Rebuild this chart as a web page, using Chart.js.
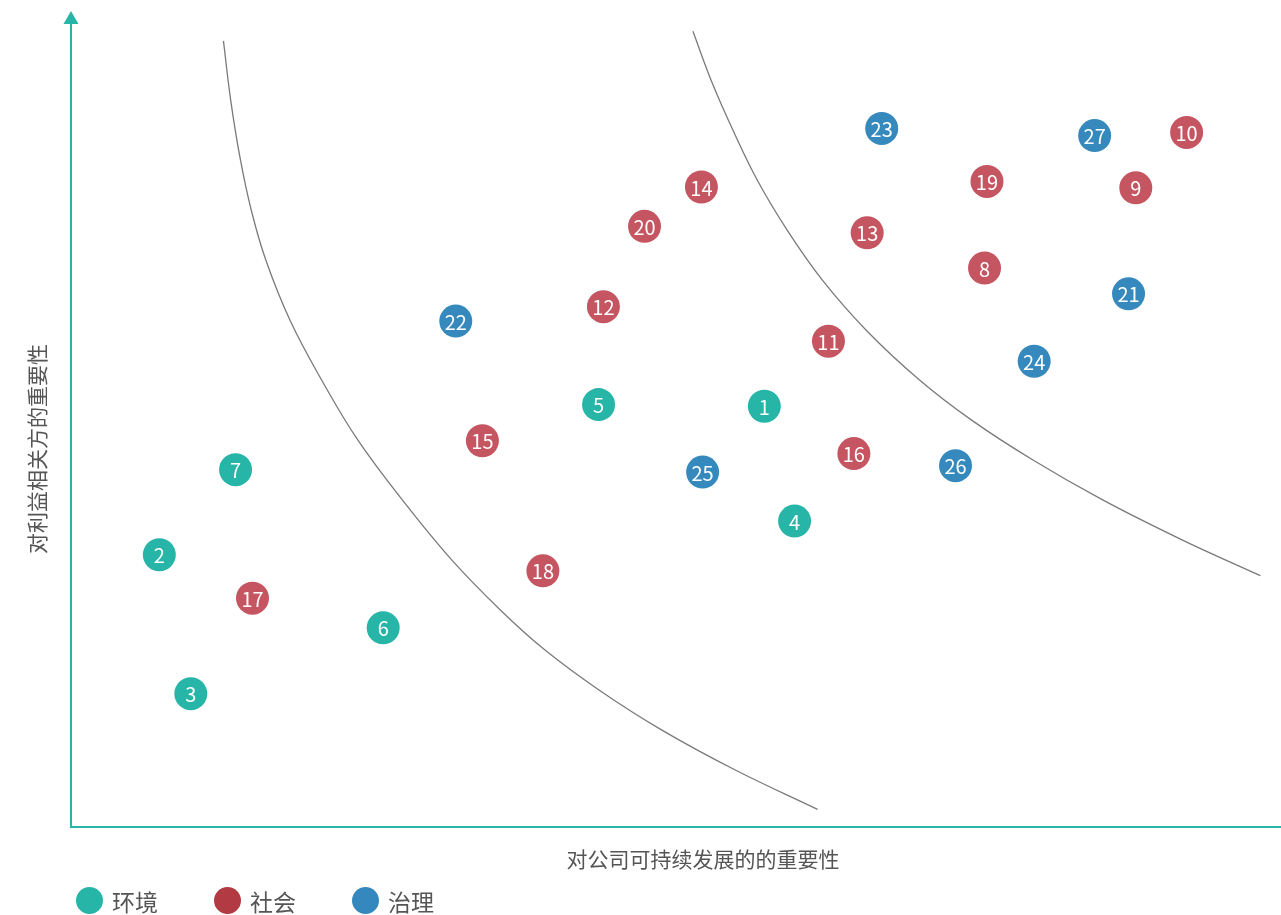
<!DOCTYPE html>
<html lang="zh-CN">
<head>
<meta charset="utf-8">
<title>实质性议题矩阵</title>
<script src="https://cdn.jsdelivr.net/npm/chart.js@4.4.1/dist/chart.umd.min.js"></script>
<style>
    html, body { margin: 0; padding: 0; background: #fff; overflow: hidden; }
    #wrap { position: relative; width: 1281px; height: 915px; }
    #legend {
        position: absolute; left: 76px; top: 887px;
        display: flex; gap: 56px;
        font-family: "Noto Sans CJK SC", "Noto Sans", sans-serif;
        font-size: 23px; color: #555;
    }
    .lg-item { display: flex; align-items: center; height: 27px; }
    .lg-dot { width: 27px; height: 27px; border-radius: 50%; margin-right: 9px; }
</style>
</head>
<body>
<div id="wrap">
    <canvas id="matrix" width="1281" height="915"></canvas>
    <div id="legend"></div>
</div>
<script>
    // 议题分类
    const categories = ['环境', '社会', '治理'];
    const pointColors = ['#27b5a8', '#c55561', '#3689bd'];
    const legendColors = ['#26b5a7', '#b23a42', '#3588bd'];

    // 环境议题 (编号 / 对公司重要性 / 对利益相关方重要性)
    const envIds = [1, 2, 3, 4, 5, 6, 7];
    const envX = [5.73, 0.73, 0.99, 5.98, 4.36, 2.58, 1.36];
    const envY = [5.24, 3.39, 1.66, 3.81, 5.26, 2.48, 4.45];

    // 社会议题
    const socIds = [8, 9, 10, 11, 12, 13, 14, 15, 16, 17, 18, 19, 20];
    const socX = [7.55, 8.80, 9.22, 6.26, 4.40, 6.58, 5.21, 3.40, 6.47, 1.50, 3.90, 7.57, 4.74];
    const socY = [6.96, 7.96, 8.65, 6.05, 6.48, 7.40, 7.97, 4.81, 4.65, 2.85, 3.19, 8.04, 7.48];

    // 治理议题
    const govIds = [21, 22, 23, 24, 25, 26, 27];
    const govX = [8.74, 3.18, 6.70, 7.96, 5.22, 7.31, 8.46];
    const govY = [6.64, 6.30, 8.70, 5.80, 4.42, 4.50, 8.61];

    // 分界曲线（读取自原图）
    const curve1X = [1.26, 1.32, 1.40, 1.49, 1.61, 1.81, 2.07, 2.37, 2.74, 3.15, 3.55, 3.92, 4.36, 4.88, 5.49, 6.17];
    const curve1Y = [9.79, 9.05, 8.31, 7.68, 7.06, 6.31, 5.57, 4.82, 4.07, 3.32, 2.70, 2.20, 1.71, 1.21, 0.71, 0.22];
    const curve2X = [5.14, 5.29, 5.47, 5.67, 5.92, 6.21, 6.57, 7.01, 7.44, 7.95, 8.53, 9.19, 9.83];
    const curve2Y = [9.91, 9.30, 8.68, 8.06, 7.43, 6.81, 6.19, 5.57, 5.07, 4.57, 4.07, 3.57, 3.13];

    const xTitle = '对公司可持续发展的的重要性';
    const yTitle = '对利益相关方的重要性';

    const axisColor = '#26b5a7';
    const textColor = '#555';
    const fontFamily = '"Noto Sans CJK SC", "Noto Sans", sans-serif';

    function toPoints(xs, ys, ids) {
        return xs.map((x, i) => ({ x, y: ys[i], id: ids ? ids[i] : null }));
    }

    function pointSet(label, xs, ys, ids, color) {
        return {
            type: 'scatter',
            label,
            data: toPoints(xs, ys, ids),
            backgroundColor: color,
            borderWidth: 0,
            pointRadius: 16.5,
            clip: false,
            order: 1
        };
    }

    function curveSet(xs, ys) {
        return {
            type: 'line',
            label: '',
            data: toPoints(xs, ys),
            borderColor: '#7a7a7a',
            borderWidth: 1.3,
            pointRadius: 0,
            fill: false,
            tension: 0.4,
            order: 2
        };
    }

    // 轴箭头、轴标题和圆点编号
    const decorPlugin = {
        id: 'decor',
        afterDatasetsDraw(chart) {
            const ctx = chart.ctx;
            ctx.save();
            ctx.fillStyle = '#fff';
            ctx.font = '20px ' + fontFamily;
            ctx.textAlign = 'center';
            ctx.textBaseline = 'middle';
            chart.data.datasets.forEach((ds, di) => {
                if (ds.type !== 'scatter') return;
                chart.getDatasetMeta(di).data.forEach((el, i) => {
                    ctx.fillText(String(ds.data[i].id), el.x, el.y + 1);
                });
            });
            ctx.restore();
        },
        afterDraw(chart) {
            const { ctx, chartArea } = chart;
            ctx.save();
            // y 轴箭头
            ctx.fillStyle = axisColor;
            ctx.beginPath();
            ctx.moveTo(chartArea.left, chartArea.top - 13);
            ctx.lineTo(chartArea.left - 7.5, chartArea.top);
            ctx.lineTo(chartArea.left + 7.5, chartArea.top);
            ctx.closePath();
            ctx.fill();

            ctx.fillStyle = textColor;
            ctx.font = '21px ' + fontFamily;
            ctx.textAlign = 'center';
            ctx.textBaseline = 'middle';
            ctx.fillText(xTitle, chartArea.left + 632, chartArea.bottom + 32);

            ctx.translate(chartArea.left - 34, chartArea.top + 425);
            ctx.rotate(-Math.PI / 2);
            ctx.fillText(yTitle, 0, 0);
            ctx.restore();
        }
    };

    const chart = new Chart(document.getElementById('matrix'), {
        data: {
            datasets: [
                pointSet(categories[0], envX, envY, envIds, pointColors[0]),
                pointSet(categories[1], socX, socY, socIds, pointColors[1]),
                pointSet(categories[2], govX, govY, govIds, pointColors[2]),
                curveSet(curve1X, curve1Y),
                curveSet(curve2X, curve2Y)
            ]
        },
        options: {
            responsive: false,
            animation: false,
            events: [],
            layout: {
                autoPadding: false,
                padding: { left: 71, top: 24, right: 0, bottom: 88 }
            },
            scales: {
                x: {
                    type: 'linear', min: 0, max: 10,
                    grid: { display: false, drawTicks: false, tickLength: 0 },
                    ticks: { display: false },
                    border: { display: true, color: axisColor, width: 2 }
                },
                y: {
                    type: 'linear', min: 0, max: 10,
                    grid: { display: false, drawTicks: false, tickLength: 0 },
                    ticks: { display: false },
                    border: { display: true, color: axisColor, width: 2 }
                }
            },
            plugins: {
                legend: { display: false },
                tooltip: { enabled: false }
            }
        },
        plugins: [decorPlugin]
    });

    // 图例
    const legendEl = document.getElementById('legend');
    categories.forEach((name, i) => {
        const item = document.createElement('div');
        item.className = 'lg-item';
        item.innerHTML = `<span class="lg-dot" style="background:${legendColors[i]}"></span><span>${name}</span>`;
        legendEl.appendChild(item);
    });
</script>
</body>
</html>
